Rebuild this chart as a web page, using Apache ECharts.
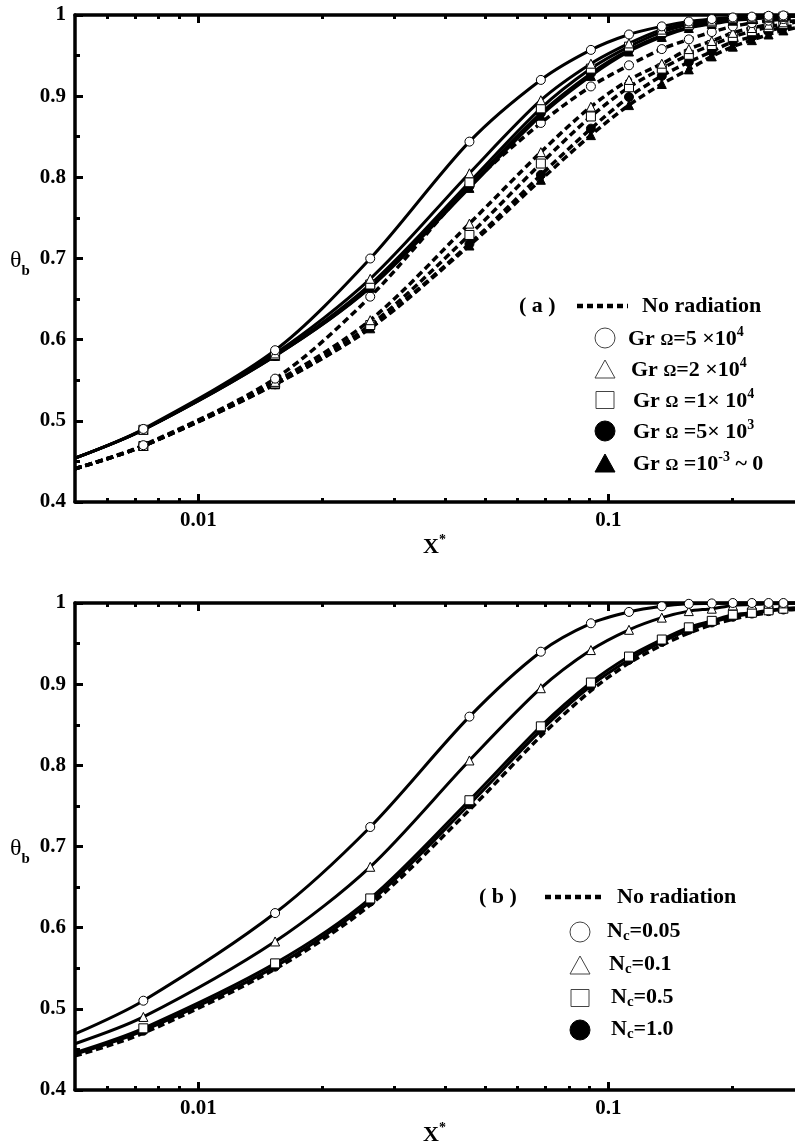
<!DOCTYPE html>
<html>
<head>
<meta charset="utf-8">
<script src="https://cdn.jsdelivr.net/npm/echarts@6/dist/echarts.min.js"></script>
<style>
  html, body { margin: 0; padding: 0; background: #fff; }
  #chart { width: 795px; height: 1144px; }
</style>
</head>
<body>
<div id="chart"></div>
<script>
// ---------- data ----------
const X_POINTS = [0.005, 0.00734, 0.01538, 0.02624, 0.0458, 0.0684, 0.0906, 0.1122, 0.1349, 0.157, 0.1786, 0.201, 0.2237, 0.2457, 0.267, 0.285];
const X_MAJOR = [0.01, 0.1];
const X_MINOR = [0.006, 0.007, 0.008, 0.009, 0.02, 0.03, 0.04, 0.05, 0.06, 0.07, 0.08, 0.09, 0.2];
const Y_LABELS = ['0.4', '0.5', '0.6', '0.7', '0.8', '0.9', '1'];

// panel (a): with radiation (solid)
const A_RAD_GR5E4 = [0.454, 0.490, 0.587, 0.700, 0.844, 0.920, 0.957, 0.976, 0.986, 0.992, 0.995, 0.997, 0.998, 0.999, 0.9995, 0.9997];
const A_RAD_GR2E4 = [0.454, 0.489, 0.583, 0.675, 0.805, 0.895, 0.940, 0.965, 0.982, 0.990, 0.993, 0.996, 0.997, 0.998, 0.999, 0.9993];
const A_RAD_GR1E4 = [0.454, 0.489, 0.581, 0.668, 0.794, 0.885, 0.934, 0.961, 0.979, 0.988, 0.991, 0.995, 0.996, 0.997, 0.998, 0.999];
const A_RAD_GR5E3 = [0.454, 0.489, 0.580, 0.665, 0.790, 0.879, 0.928, 0.957, 0.975, 0.985, 0.990, 0.994, 0.996, 0.997, 0.998, 0.9985];
const A_RAD_GR0   = [0.454, 0.489, 0.580, 0.664, 0.787, 0.876, 0.925, 0.955, 0.973, 0.984, 0.989, 0.993, 0.995, 0.997, 0.998, 0.998];
// panel (a): no radiation (dashed)
const A_NR_GR5E4 = [0.441, 0.470, 0.552, 0.653, 0.789, 0.867, 0.912, 0.938, 0.958, 0.970, 0.979, 0.986, 0.990, 0.993, 0.995, 0.996];
const A_NR_GR2E4 = [0.441, 0.469, 0.548, 0.624, 0.743, 0.831, 0.887, 0.920, 0.940, 0.958, 0.968, 0.978, 0.984, 0.988, 0.991, 0.993];
const A_NR_GR1E4 = [0.441, 0.469, 0.546, 0.618, 0.729, 0.817, 0.875, 0.911, 0.934, 0.951, 0.963, 0.973, 0.980, 0.985, 0.989, 0.991];
const A_NR_GR5E3 = [0.441, 0.469, 0.545, 0.615, 0.718, 0.803, 0.860, 0.899, 0.925, 0.942, 0.955, 0.967, 0.973, 0.980, 0.985, 0.987];
const A_NR_GR0   = [0.441, 0.469, 0.545, 0.614, 0.716, 0.797, 0.852, 0.889, 0.915, 0.933, 0.949, 0.961, 0.969, 0.976, 0.981, 0.984];

// panel (b)
const B_NC005 = [0.469, 0.510, 0.618, 0.724, 0.860, 0.940, 0.975, 0.989, 0.996, 0.999, 0.9995, 1.0, 1.0, 1.0, 1.0, 1.0];
const B_NC01  = [0.457, 0.490, 0.583, 0.675, 0.806, 0.895, 0.942, 0.967, 0.982, 0.990, 0.993, 0.997, 0.998, 0.999, 0.9995, 0.9997];
const B_NC05  = [0.446, 0.476, 0.556, 0.636, 0.757, 0.848, 0.902, 0.934, 0.955, 0.970, 0.978, 0.9856, 0.988, 0.991, 0.993, 0.994];
const B_NC10  = [0.444, 0.473, 0.552, 0.632, 0.752, 0.843, 0.898, 0.930, 0.952, 0.967, 0.976, 0.983, 0.987, 0.990, 0.992, 0.993];
const B_NR    = [0.442, 0.470, 0.549, 0.628, 0.745, 0.836, 0.892, 0.926, 0.948, 0.963, 0.973, 0.980, 0.985, 0.988, 0.991, 0.992];

// ---------- chart ----------
const FONT = '"Liberation Serif", "Times New Roman", serif';
const X_MIN = 0.005, X_MAX = 0.285;

const MARK = {
  oc: { symbol: 'circle', fill: '#fff' },
  ot: { symbol: 'triangle', fill: '#fff' },
  os: { symbol: 'rect', fill: '#fff' },
  fc: { symbol: 'circle', fill: '#000' },
  ft: { symbol: 'triangle', fill: '#000' },
  none: { symbol: 'none', fill: '#000' }
};

function pts(ys) {
  return X_POINTS.map((x, i) => {
    const edge = (i === 0 || i === X_POINTS.length - 1);
    return edge ? { value: [x, ys[i]], symbol: 'none' } : [x, ys[i]];
  });
}

function line(grid, ys, mk, dashed) {
  const m = MARK[mk];
  return {
    type: 'line',
    xAxisIndex: grid * 4,
    yAxisIndex: grid,
    data: pts(ys),
    smooth: 0.3,
    symbol: m.symbol,
    symbolSize: 9,
    showSymbol: mk !== 'none',
    lineStyle: { color: '#000', width: dashed ? 3.5 : 3, type: dashed ? [7, 4] : 'solid' },
    itemStyle: { color: m.fill, borderColor: '#000', borderWidth: 1 },
    emphasis: { disabled: true },
    clip: false,
    z: dashed ? 2 : 3
  };
}

function xAxes(grid) {
  const base = {
    gridIndex: grid, type: 'log', logBase: 10, min: X_MIN, max: X_MAX,
    splitLine: { show: false }, minorSplitLine: { show: false }
  };
  const lbl = {
    customValues: X_MAJOR, fontFamily: FONT, fontWeight: 'bold', fontSize: 21, color: '#000', margin: 8,
    formatter: v => (Math.abs(v - 0.01) < 1e-9 ? '0.01' : '0.1')
  };
  return [
    Object.assign({}, base, { position: 'bottom',
      axisLine: { show: true, lineStyle: { color: '#000', width: 3.5 } },
      axisTick: { show: true, inside: true, length: 8, customValues: X_MAJOR, lineStyle: { color: '#000', width: 3 } },
      axisLabel: lbl }),
    Object.assign({}, base, { position: 'bottom',
      axisLine: { show: false },
      axisTick: { show: true, inside: true, length: 4, customValues: X_MINOR, lineStyle: { color: '#000', width: 3 } },
      axisLabel: { show: false } }),
    Object.assign({}, base, { position: 'top',
      axisLine: { show: true, lineStyle: { color: '#000', width: 3.5 } },
      axisTick: { show: true, inside: true, length: 8, customValues: X_MAJOR, lineStyle: { color: '#000', width: 3 } },
      axisLabel: { show: false } }),
    Object.assign({}, base, { position: 'top',
      axisLine: { show: false },
      axisTick: { show: true, inside: true, length: 4, customValues: X_MINOR, lineStyle: { color: '#000', width: 3 } },
      axisLabel: { show: false } })
  ];
}

function yAxis(grid) {
  return {
    gridIndex: grid, type: 'value', min: 0.4, max: 1, interval: 0.1, position: 'left',
    axisLine: { show: true, lineStyle: { color: '#000', width: 3.5 } },
    axisTick: { show: true, inside: true, length: 8, lineStyle: { color: '#000', width: 3 } },
    minorTick: { show: true, splitNumber: 2, length: 5, lineStyle: { color: '#000', width: 3 } },
    splitLine: { show: false }, minorSplitLine: { show: false },
    axisLabel: {
      fontFamily: FONT, fontWeight: 'bold', fontSize: 21, color: '#000', margin: 9,
      formatter: v => Y_LABELS[Math.round((v - 0.4) * 10)]
    }
  };
}

// legend helpers (graphic)
const TXT = { fontFamily: FONT, fontWeight: 'bold', fontSize: 22, fill: '#000' };
function text(x, y, str, rich, extra) {
  return { type: 'text', x: x, y: y, z: 100,
    style: Object.assign({ text: str, rich: rich, verticalAlign: 'middle', align: 'left' }, TXT, extra || {}) };
}
const RICH_SUP = {
  m: { fontFamily: FONT, fontWeight: 'bold', fontSize: 22, lineHeight: 25, verticalAlign: 'bottom' },
  o: { fontFamily: FONT, fontWeight: 'bold', fontSize: 16, lineHeight: 25, verticalAlign: 'bottom', padding: [0, 0, 2, 0] },
  s: { fontFamily: FONT, fontWeight: 'bold', fontSize: 14, verticalAlign: 'top' }
};
const RICH_SUB = {
  m: { fontFamily: FONT, fontWeight: 'bold', fontSize: 22, lineHeight: 24, verticalAlign: 'top' },
  s: { fontFamily: FONT, fontWeight: 'bold', fontSize: 15, verticalAlign: 'bottom' }
};
function symCircle(cx, cy, r, fill) {
  return { type: 'circle', shape: { cx: cx, cy: cy, r: r }, z: 100,
    style: { fill: fill, stroke: fill === '#000' ? '#000' : '#444', lineWidth: 1 } };
}
function symTri(cx, cy, s, fill) {
  const h = s * 0.9;
  return { type: 'polygon', z: 100, shape: { points: [[cx, cy - h / 2], [cx + s / 2, cy + h / 2], [cx - s / 2, cy + h / 2]] },
    style: { fill: fill, stroke: fill === '#000' ? '#000' : '#444', lineWidth: 1 } };
}
function symRect(cx, cy, w, h) {
  return { type: 'rect', z: 100, shape: { x: cx - w / 2, y: cy - h / 2, width: w, height: h },
    style: { fill: '#fff', stroke: '#444', lineWidth: 1 } };
}
function dashSample(x1, x2, y) {
  return { type: 'line', z: 100, shape: { x1: x1, y1: y, x2: x2, y2: y },
    style: { stroke: '#000', lineWidth: 4.5, lineDash: [6, 4] } };
}
const THETA_RICH = {
  t: { fontFamily: FONT, fontSize: 24, fontWeight: 'normal', lineHeight: 30, verticalAlign: 'top' },
  b: { fontFamily: FONT, fontSize: 15, fontWeight: 'bold', verticalAlign: 'bottom' }
};

const graphics = [
  // axis titles
  text(10, 264, '{t|θ}{b|b}', THETA_RICH),
  text(10, 852, '{t|θ}{b|b}', THETA_RICH),
  text(423, 546, '{m|X}{s|*}', RICH_SUP),
  text(423, 1134, '{m|X}{s|*}', RICH_SUP),

  // legend (a)
  text(519, 306, '( a )'),
  dashSample(577, 628, 306),
  text(642, 306, 'No radiation'),
  symCircle(605, 338, 10, '#fff'),
  text(628, 338, '{m|Gr }{o|Ω}{m|=5 ×10}{s|4}', RICH_SUP),
  symTri(605, 369, 20, '#fff'),
  text(631, 369, '{m|Gr }{o|Ω}{m|=2 ×10}{s|4}', RICH_SUP),
  symRect(605, 400, 18, 17),
  text(633, 400, '{m|Gr }{o|Ω}{m| =1× 10}{s|4}', RICH_SUP),
  symCircle(605, 431, 10, '#000'),
  text(633, 431, '{m|Gr }{o|Ω}{m| =5× 10}{s|3}', RICH_SUP),
  symTri(605, 463, 20, '#000'),
  text(633, 463, '{m|Gr }{o|Ω}{m| =10}{s|-3}{m| ~ 0}', RICH_SUP),

  // legend (b)
  text(479, 897, '( b )'),
  dashSample(545, 604, 897),
  text(617, 897, 'No radiation'),
  symCircle(580, 932, 10, '#fff'),
  text(607, 932, '{m|N}{s|c}{m|=0.05}', RICH_SUB),
  symTri(580, 965, 20, '#fff'),
  text(609, 965, '{m|N}{s|c}{m|=0.1}', RICH_SUB),
  symRect(580, 998, 18, 17),
  text(611, 998, '{m|N}{s|c}{m|=0.5}', RICH_SUB),
  symCircle(580, 1030, 10, '#000'),
  text(611, 1030, '{m|N}{s|c}{m|=1.0}', RICH_SUB)
];

const option = {
  animation: false,
  backgroundColor: '#fff',
  grid: [
    { left: 75, top: 15, width: 720, height: 487 },
    { left: 75, top: 603, width: 720, height: 487 }
  ],
  xAxis: xAxes(0).concat(xAxes(1)),
  yAxis: [yAxis(0), yAxis(1)],
  series: [
    line(0, A_NR_GR0, 'ft', true),
    line(0, A_NR_GR5E3, 'fc', true),
    line(0, A_NR_GR1E4, 'os', true),
    line(0, A_NR_GR2E4, 'ot', true),
    line(0, A_NR_GR5E4, 'oc', true),
    line(0, A_RAD_GR0, 'ft', false),
    line(0, A_RAD_GR5E3, 'fc', false),
    line(0, A_RAD_GR1E4, 'os', false),
    line(0, A_RAD_GR2E4, 'ot', false),
    line(0, A_RAD_GR5E4, 'oc', false),

    line(1, B_NR, 'none', true),
    line(1, B_NC10, 'fc', false),
    line(1, B_NC05, 'os', false),
    line(1, B_NC01, 'ot', false),
    line(1, B_NC005, 'oc', false)
  ],
  graphic: graphics
};

const chart = echarts.init(document.getElementById('chart'), null, { renderer: 'canvas' });
chart.setOption(option);
</script>
</body>
</html>
